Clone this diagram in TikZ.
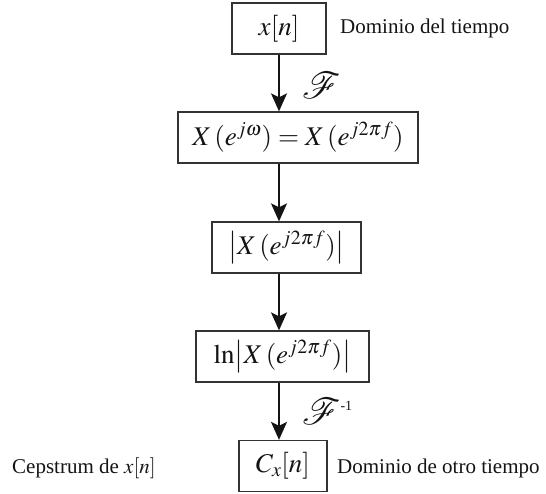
\documentclass[tikz,border=0pt]{standalone}
\usepackage{graphicx}
\usepackage{mathptmx}
\usepackage{mathrsfs}
\usepackage{fontspec}
\setmainfont{Liberation Serif}
\usetikzlibrary{arrows.meta}
\definecolor{ink}{HTML}{141414}
\definecolor{frame}{HTML}{333333}

\begin{document}
\begin{tikzpicture}[x=1pt,y=-1pt,
 box/.style={draw=frame,line width=1.3pt,inner sep=0pt,minimum height=51pt,text=ink,font=\fontsize{27}{32}\selectfont},
 flow/.style={draw=ink,line width=2pt,-{Stealth[length=18pt,width=16pt,inset=4pt]}},
 lbl/.style={font=\fontsize{21}{25}\selectfont,text=ink,anchor=base west,inner sep=0pt},
 op/.style={font=\fontsize{24}{28}\selectfont,text=ink,anchor=west,inner sep=0pt}]
\useasboundingbox (0,0) rectangle (546,493);
\foreach \nm/\x/\y/\w/\tx in {xn/279/28.5/94/{$x[n]$},
 Xw/298/137.5/240/{$X\,(e^{j\omega})=X\,(e^{j2\pi f})$},
 absX/286.5/247.5/149/{$\bigl|X\,(e^{j2\pi f})\bigr|$},
 lnX/282.5/356.5/173/{$\ln\bigl|X\,(e^{j2\pi f})\bigr|$},
 Cx/283/466/88/{$C_x[n]$}}
 \node[box,minimum width=\w] (\nm) at (\x,\y) {\tx};
\draw[flow] (xn.south) -- (xn.south |- Xw.north) node[op,midway,xshift=22pt,yshift=-2pt] (F) {\scalebox{1.5}{$\mathscr{F}$}};
\draw[flow] (xn.south |- Xw.south) -- (xn.south |- absX.north);
\draw[flow] (xn.south |- absX.south) -- (xn.south |- lnX.north);
\draw[flow] (xn.south |- lnX.south) -- (xn.south |- Cx.north) node[op,midway,xshift=22pt] (Finv) {\scalebox{1.5}{$\mathscr{F}$}\raisebox{14pt}{\fontsize{14}{16}\selectfont -1}};
\node[lbl] (dom) at (340,33) {Dominio del tiempo};
\node[lbl] (cep) at (12,473) {Cepstrum de $x[n]$};
\node[lbl] (otro) at (337,473) {Dominio de otro tiempo};
\end{tikzpicture}
\end{document}
